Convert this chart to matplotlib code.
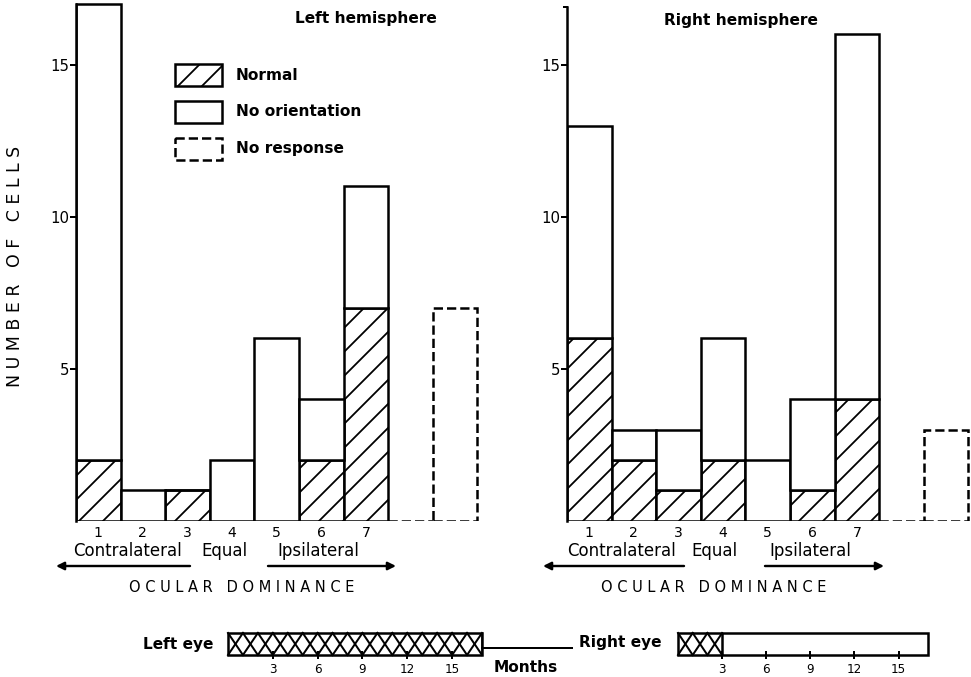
import matplotlib
matplotlib.use("Agg")
import matplotlib.pyplot as plt
from matplotlib.patches import Rectangle

# ---- data -------------------------------------------------------------
levels = [1, 2, 3, 4, 5, 6, 7]
left_normal = [2, 0, 1, 0, 0, 2, 7]
left_noorient = [15, 1, 0, 2, 6, 2, 4]
left_noresp = 7
right_normal = [6, 2, 1, 2, 0, 1, 4]
right_noorient = [7, 1, 2, 4, 2, 3, 12]
right_noresp = 3
y_ticks = [5, 10, 15]

rearing_months = 17
left_eye_closed = 17
right_eye_closed = 3
month_ticks = [3, 6, 9, 12, 15]

# ---- layout (pixels of a 971x677 canvas) -------------------------------
W, H = 971, 677
DPI = 144          # hatch spacing scales with dpi -> sparse lines like the print
LW = 1.25
FONT = "DejaVu Sans"
plt.rcParams["font.family"] = FONT
plt.rcParams["hatch.linewidth"] = 0.9


def frac(x0, y0, x1, y1):
    """pixel box (top-left origin) -> figure fraction rect"""
    return [x0 / W, 1 - y1 / H, (x1 - x0) / W, (y1 - y0) / H]


fig = plt.figure(figsize=(W / DPI, H / DPI), dpi=DPI)
fig.patch.set_facecolor("white")

UNIT = 44.6        # px per ocular-dominance group
YPX = 30.4         # px per cell
BASE = 520.7


def hemisphere(x_axis, normal, noorient, noresp, spine_top):
    ax = fig.add_axes(frac(x_axis, BASE - 17.1 * YPX,
                           x_axis + 9.05 * UNIT, BASE))
    ax.bar(levels, normal, width=1, facecolor="white", edgecolor="black",
           hatch="//", lw=LW)
    ax.bar(levels, noorient, bottom=normal, width=1, facecolor="white",
           edgecolor="black", lw=LW)
    ax.bar([9], [noresp], width=1, facecolor="white", edgecolor="black",
           ls="--", lw=LW)
    ax.plot([7.5, 8.5], [0, 0], ls="--", color="black", lw=LW)
    ax.set_xlim(0.5, 9.55)
    ax.set_ylim(0, 17.1)
    for s in ("top", "right", "bottom"):
        ax.spines[s].set_visible(False)
    ax.spines["left"].set_bounds(0, spine_top)
    ax.spines["left"].set_linewidth(LW)
    ax.set_yticks(y_ticks)
    ax.set_yticklabels([str(t) for t in y_ticks])
    ax.tick_params(axis="y", length=3, width=1.0, labelsize=7.5, pad=0.5)
    ax.set_xticks(levels)
    ax.set_xticklabels([str(v) for v in levels])
    ax.tick_params(axis="x", length=0, labelsize=7, pad=2.5)
    ax.patch.set_alpha(0)
    return ax


hemisphere(76, left_normal, left_noorient, left_noresp, 17)
ax_r = hemisphere(567, right_normal, right_noorient, right_noresp, 16.9)
# little hook at the top of the right-hand axis
ax_r.plot([0.5, 0.44], [16.9, 16.9], color="black", lw=1.0, clip_on=False)


def eye_bar(x0, x1, closed):
    ax = fig.add_axes(frac(x0, 633, x1, 655))
    ax.barh(0.5, rearing_months, height=1, left=0, facecolor="white",
            edgecolor="black", lw=LW, clip_on=False)
    for m in range(closed):
        ax.plot([m, m + 1], [0, 1], color="black", lw=1.0, clip_on=False)
        ax.plot([m, m + 1], [1, 0], color="black", lw=1.0, clip_on=False)
    ax.plot([closed, closed], [0, 1], color="black", lw=LW)
    ax.set_xlim(0, rearing_months)
    ax.set_ylim(0, 1)
    for s in ax.spines.values():
        s.set_visible(False)
    ax.set_yticks([])
    ax.set_xticks(month_ticks)
    ax.set_xticklabels([str(m) for m in month_ticks])
    ax.tick_params(axis="x", direction="inout", length=4, width=1.0,
                   labelsize=6, pad=2)
    ax.patch.set_alpha(0)
    return ax


eye_bar(228, 482, left_eye_closed)
eye_bar(678, 928, right_eye_closed)

# ---- overlay for labels, legend and arrows (pixel coordinates) ---------
ov = fig.add_axes([0, 0, 1, 1])
ov.set_xlim(0, W)
ov.set_ylim(H, 0)
ov.axis("off")

ov.text(366, 18, "Left hemisphere", ha="center", va="center",
        fontsize=7.7, fontweight="bold")
ov.text(741, 20, "Right hemisphere", ha="center", va="center",
        fontsize=7.7, fontweight="bold")

ov.text(15, 266, "N U M B E R   O F   C E L L S", rotation=90,
        ha="center", va="center", fontsize=8.7)

# legend
legend_rows = [(64, "Normal", "//", "-"),
               (101, "No orientation", None, "-"),
               (138, "No response", None, "--")]
for top, label, hatch, ls in legend_rows:
    ov.add_patch(Rectangle((175, top), 47, 22, facecolor="none",
                           edgecolor="black", hatch=hatch, ls=ls, lw=LW))
    ov.text(236, top + 11, label, ha="left", va="center",
            fontsize=7.7, fontweight="bold")

# ocular dominance captions
for cx_con, cx_eq, cx_ips, arr_l, arr_r, cx_od in (
        (127, 224, 318, (190, 56), (268, 396), 242),
        (622, 714, 810, (684, 543), (765, 884), 714)):
    ov.text(cx_con, 551, "Contralateral", ha="center", va="center", fontsize=8.3)
    ov.text(cx_eq, 551, "Equal", ha="center", va="center", fontsize=8.3)
    ov.text(cx_ips, 551, "Ipsilateral", ha="center", va="center", fontsize=8.3)
    ov.annotate("", xy=(arr_l[1], 566), xytext=(arr_l[0], 566),
                arrowprops=dict(arrowstyle="-|>", color="black", lw=1.2,
                                mutation_scale=8, shrinkA=0, shrinkB=0))
    ov.annotate("", xy=(arr_r[1], 566), xytext=(arr_r[0], 566),
                arrowprops=dict(arrowstyle="-|>", color="black", lw=1.2,
                                mutation_scale=8, shrinkA=0, shrinkB=0))
    ov.text(cx_od, 587, "O C U L A R   D O M I N A N C E", ha="center",
            va="center", fontsize=7.3)

# rearing time line
ov.text(178, 644, "Left eye", ha="center", va="center", fontsize=7.7,
        fontweight="bold")
ov.text(620, 643, "Right eye", ha="center", va="center", fontsize=7.7,
        fontweight="bold")
ov.plot([482, 572], [648, 648], color="black", lw=1.0)
ov.text(526, 667, "Months", ha="center", va="center", fontsize=7.7,
        fontweight="bold")

fig.savefig("out.png", dpi=DPI, facecolor="white")
